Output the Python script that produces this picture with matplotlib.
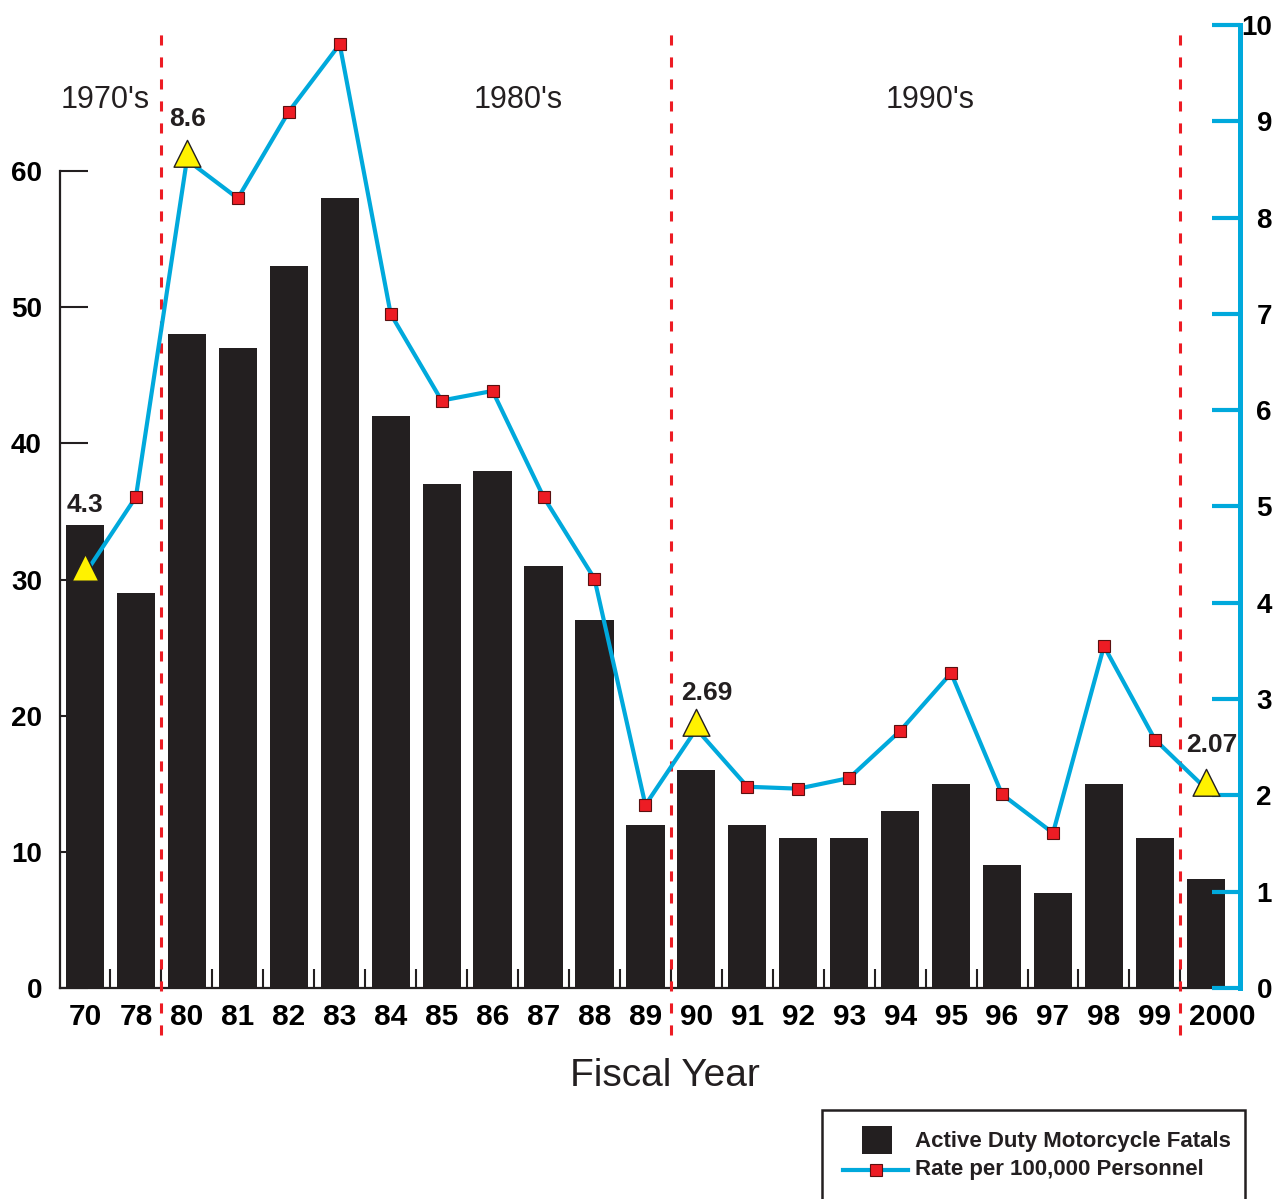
import matplotlib
matplotlib.use("Agg")
import matplotlib.pyplot as plt
from matplotlib.patches import Rectangle
from matplotlib.lines import Line2D
from matplotlib.path import Path
import matplotlib.transforms as mtransforms

plt.rcParams['font.family'] = ['Liberation Sans', 'DejaVu Sans']

years = ['70', '78', '80', '81', '82', '83', '84', '85', '86', '87', '88', '89',
         '90', '91', '92', '93', '94', '95', '96', '97', '98', '99', '2000']
fatals = [34, 29, 48, 47, 53, 58, 42, 37, 38, 31, 27, 12,
          16, 12, 11, 11, 13, 15, 9, 7, 15, 11, 8]
rates = [4.3, 5.1, 8.6, 8.2, 9.1, 9.8, 7.0, 6.1, 6.2, 5.1, 4.25, 1.9,
         2.69, 2.09, 2.07, 2.18, 2.67, 3.27, 2.01, 1.61, 3.55, 2.58, 2.07]
highlight_idx = [0, 2, 12, 22]
highlight_labels = ['4.3', '8.6', '2.69', '2.07']
decades = ["1970's", "1980's", "1990's"]
decade_breaks = [1.5, 11.5, 21.5]
left_ticks = [0, 10, 20, 30, 40, 50, 60]
right_ticks = list(range(0, 11))

BAR = '#231F20'
BLUE = '#00A9DC'
RED = '#ED1C24'
YELLOW = '#FFF200'

W, H = 1275, 1199
fig = plt.figure(figsize=(W / 100, H / 100), dpi=100)
ax = fig.add_axes([60 / W, 1 - 988 / H, 1180 / W, 963 / H])
ax2 = ax.twinx()

x = list(range(len(years)))
ax.bar(x, fatals, width=0.75, color=BAR, zorder=2)
ax.set_xlim(-0.49, 22.67)
ax.set_ylim(0, 60 * 963 / 817)
ax2.set_ylim(0, 10)

# spines
ax.spines['top'].set_visible(False)
ax2.spines['top'].set_visible(False)
ax.spines['right'].set_visible(False)
ax2.spines['left'].set_visible(False)
ax2.spines['bottom'].set_visible(False)
ax.spines['left'].set_bounds(0, 60)
ax.spines['left'].set_linewidth(1.6)
ax.spines['left'].set_color(BAR)
ax.spines['bottom'].set_linewidth(1.6)
ax.spines['bottom'].set_color(BAR)
ax2.spines['right'].set_linewidth(3.6)
ax2.spines['right'].set_color(BLUE)

# left ticks
ax.set_yticks(left_ticks)
ax.set_yticklabels([str(t) for t in left_ticks])
ax.tick_params(axis='y', direction='in', length=20, width=1.5, color=BAR,
               pad=13, labelsize=20)
for lb in ax.get_yticklabels():
    lb.set_fontweight('bold')

# right ticks
ax2.set_yticks(right_ticks)
ax2.set_yticklabels([str(t) for t in right_ticks])
ax2.tick_params(axis='y', direction='in', length=20, width=3, color=BLUE,
                pad=23, labelsize=20)
for lb in ax2.get_yticklabels():
    lb.set_fontweight('bold')
    lb.set_horizontalalignment('right')

# x ticks
ax.set_xticks(x)
ax.set_xticklabels(years)
ax.tick_params(axis='x', which='major', length=0, pad=11, labelsize=21.5)
xlabels = ax.get_xticklabels()
for lb in xlabels:
    lb.set_fontweight('bold')
xlabels[-1].set_transform(xlabels[-1].get_transform() +
                          mtransforms.ScaledTranslation(0.16, 0, fig.dpi_scale_trans))
ax.set_xticks([i + 0.5 for i in range(len(years) - 1)], minor=True)
ax.tick_params(axis='x', which='minor', direction='in', length=14, width=1.5,
               color=BAR)

# decade separators
trans = mtransforms.blended_transform_factory(ax.transData, ax.transAxes)
for xb in decade_breaks:
    ax.add_line(Line2D([xb, xb], [-0.049, 1.0], transform=trans, color=RED,
                       lw=2.2, linestyle=(0, (3.3, 3.9)), clip_on=False,
                       zorder=3))

# rate line
ax2.plot(x, rates, color=BLUE, lw=3, zorder=4)
sq = [i for i in x if i not in highlight_idx]
ax2.plot(sq, [rates[i] for i in sq], linestyle='none', marker='s',
         markersize=9, markerfacecolor=RED, markeredgecolor='#5a1010',
         markeredgewidth=0.8, zorder=5)
tri = Path([(0, 1.5), (-1, -0.5), (1, -0.5), (0, 1.5)],
           [Path.MOVETO, Path.LINETO, Path.LINETO, Path.CLOSEPOLY])
ax2.plot(highlight_idx, [rates[i] for i in highlight_idx], linestyle='none',
         marker=tri, markersize=29, markerfacecolor=YELLOW,
         markeredgecolor=BAR, markeredgewidth=1.0, zorder=5)
label_offsets = [(0, 69), (1, 41), (10, 36), (6, 44)]
for i, lab, off in zip(highlight_idx, highlight_labels, label_offsets):
    ax2.annotate(lab, (i, rates[i]), xytext=off, textcoords='offset pixels',
                 ha='center', va='center', fontsize=19, fontweight='bold',
                 color=BAR, zorder=6)

# decade labels
for lab, xp in zip(decades, [105, 518, 930]):
    fig.text(xp / W, 1 - 100 / H, lab, ha='center', va='center', fontsize=22,
             color=BAR)

# axis title
fig.text(665 / W, 1 - 1076 / H, 'Fiscal Year', ha='center', va='center',
         fontsize=28, color=BAR)

# legend (manual)
fig.patches.append(Rectangle((822 / W, -0.01), 423 / W, (H - 1110) / H + 0.01,
                             transform=fig.transFigure, facecolor='white',
                             edgecolor=BAR, lw=1.8))
fig.patches.append(Rectangle((862 / W, 1 - 1154 / H), 30 / W, 28 / H,
                             transform=fig.transFigure, facecolor=BAR,
                             edgecolor='none'))
fig.lines.append(Line2D([843 / W, 908 / W], [1 - 1170 / H] * 2,
                        transform=fig.transFigure, color=BLUE, lw=3))
fig.lines.append(Line2D([876 / W], [1 - 1170 / H], transform=fig.transFigure,
                        marker='s', markersize=9, markerfacecolor=RED,
                        markeredgecolor='#5a1010', markeredgewidth=0.8,
                        linestyle='none'))
fig.text(915 / W, 1 - 1142 / H, 'Active Duty Motorcycle Fatals', ha='left',
         va='center', fontsize=16, fontweight='bold', color=BAR)
fig.text(915 / W, 1 - 1170 / H, 'Rate per 100,000 Personnel', ha='left',
         va='center', fontsize=16, fontweight='bold', color=BAR)

fig.savefig('out.png', dpi=100)
